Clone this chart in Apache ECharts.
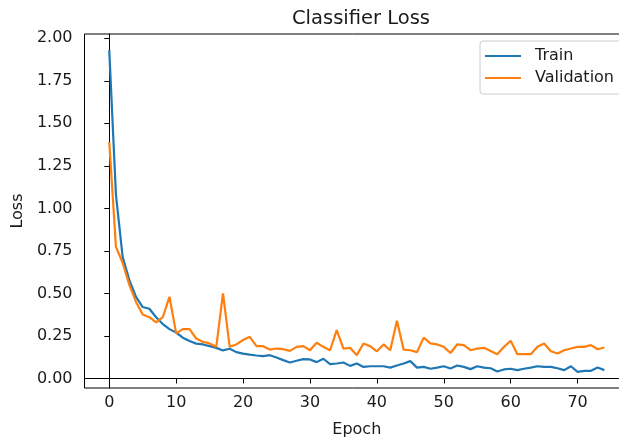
<!DOCTYPE html>
<html>
<head>
<meta charset="utf-8">
<script src="https://cdn.jsdelivr.net/npm/echarts@6/dist/echarts.min.js"></script>
<style>
html,body{margin:0;padding:0;background:#fff;}
#chart{width:619px;height:444px;}
</style>
</head>
<body>
<div id="chart"></div>
<script>
const title = 'Classifier Loss';
const xName = 'Epoch';
const yName = 'Loss';
const seriesNames = ['Train', 'Validation'];
const xTicks = [0, 10, 20, 30, 40, 50, 60, 70];
const yTicks = [0, 0.25, 0.5, 0.75, 1.0, 1.25, 1.5, 1.75, 2.0];

const trainLoss = [1.93, 1.08, 0.715, 0.578, 0.48, 0.42, 0.41, 0.36, 0.32, 0.29,
  0.27, 0.24, 0.22, 0.205, 0.20, 0.19, 0.18, 0.165, 0.175, 0.155,
  0.146, 0.14, 0.135, 0.131, 0.137, 0.123, 0.108, 0.094, 0.104, 0.114,
  0.112, 0.096, 0.116, 0.084, 0.088, 0.094, 0.074, 0.088, 0.068, 0.072,
  0.072, 0.072, 0.064, 0.076, 0.088, 0.102, 0.064, 0.068, 0.057, 0.064,
  0.072, 0.059, 0.076, 0.068, 0.055, 0.072, 0.064, 0.06, 0.041, 0.053,
  0.057, 0.049, 0.057, 0.064, 0.072, 0.068, 0.068, 0.06, 0.049, 0.072,
  0.039, 0.045, 0.045, 0.064, 0.049];

const valLoss = [1.39, 0.774, 0.68, 0.55, 0.45, 0.376, 0.36, 0.33, 0.36, 0.48,
  0.265, 0.29, 0.29, 0.235, 0.215, 0.206, 0.186, 0.50, 0.186, 0.20,
  0.226, 0.245, 0.19, 0.19, 0.17, 0.176, 0.172, 0.162, 0.186, 0.19,
  0.166, 0.21, 0.186, 0.166, 0.284, 0.176, 0.18, 0.137, 0.206, 0.19,
  0.16, 0.2, 0.166, 0.34, 0.17, 0.166, 0.155, 0.24, 0.206, 0.2,
  0.186, 0.15, 0.2, 0.196, 0.166, 0.176, 0.18, 0.162, 0.143, 0.186,
  0.222, 0.143, 0.143, 0.143, 0.186, 0.206, 0.16, 0.147, 0.166, 0.176,
  0.186, 0.186, 0.196, 0.172, 0.182];

const epochs = trainLoss.map((_, i) => i);

const FONT = 'DejaVu Sans';
const TXT = '#1a1a1a';
const chart = echarts.init(document.getElementById('chart'), null, {renderer: 'canvas'});

const option = {
  animation: false,
  backgroundColor: '#fff',
  title: {
    text: title,
    left: 356, top: 4,
    textAlign: 'center',
    textStyle: {fontFamily: FONT, fontSize: 19.5, fontWeight: 'normal', color: TXT}
  },
  legend: {
    orient: 'vertical',
    left: 480, top: 41,
    padding: [6, 20, 7, 5],
    itemGap: 4,
    itemWidth: 36, itemHeight: 2,
    icon: 'rect',
    borderColor: '#cccccc', borderWidth: 1, borderRadius: 3,
    backgroundColor: 'rgba(255,255,255,0.8)',
    textStyle: {fontFamily: FONT, fontSize: 16, color: TXT, lineHeight: 18, padding: [0, 0, 0, 9]},
    data: seriesNames
  },
  grid: {
    left: 84.5, top: 34, width: 544.6, height: 354,
    outerBoundsMode: 'none',
    containLabel: false,
    show: true, borderColor: '#000', borderWidth: 1, backgroundColor: 'transparent'
  },
  xAxis: {
    type: 'value',
    min: -3.7, max: 77.7,
    name: xName, nameLocation: 'middle', nameGap: 34,
    nameTextStyle: {fontFamily: FONT, fontSize: 16, color: TXT},
    axisLine: {show: true, lineStyle: {color: '#000', width: 1}},
    axisTick: {show: true, inside: false, length: 5, customValues: xTicks, lineStyle: {color: '#000'}},
    axisLabel: {customValues: xTicks, margin: 7, fontFamily: FONT, fontSize: 16, color: TXT},
    splitLine: {show: false}
  },
  yAxis: {
    type: 'value',
    min: -0.056, max: 2.025,
    name: yName, nameLocation: 'middle', nameGap: 55, nameRotate: 90,
    nameTextStyle: {fontFamily: FONT, fontSize: 16, color: TXT},
    axisLine: {show: true, lineStyle: {color: '#000', width: 1}},
    axisTick: {show: true, inside: false, length: 5, customValues: yTicks, lineStyle: {color: '#000'}},
    axisLabel: {customValues: yTicks, margin: 12, fontFamily: FONT, fontSize: 16, color: TXT,
      formatter: v => v.toFixed(2)},
    splitLine: {show: false}
  },
  series: [
    {
      name: seriesNames[0], type: 'line',
      data: epochs.map((e, i) => [e, trainLoss[i]]),
      showSymbol: false, symbol: 'none',
      lineStyle: {color: '#1f77b4', width: 2.2},
      itemStyle: {color: '#1f77b4'},
      z: 3
    },
    {
      name: seriesNames[1], type: 'line',
      data: epochs.map((e, i) => [e, valLoss[i]]),
      showSymbol: false, symbol: 'none',
      lineStyle: {color: '#ff7f0e', width: 2.2},
      itemStyle: {color: '#ff7f0e'},
      z: 4
    }
  ]
};
chart.setOption(option);
</script>
</body>
</html>
